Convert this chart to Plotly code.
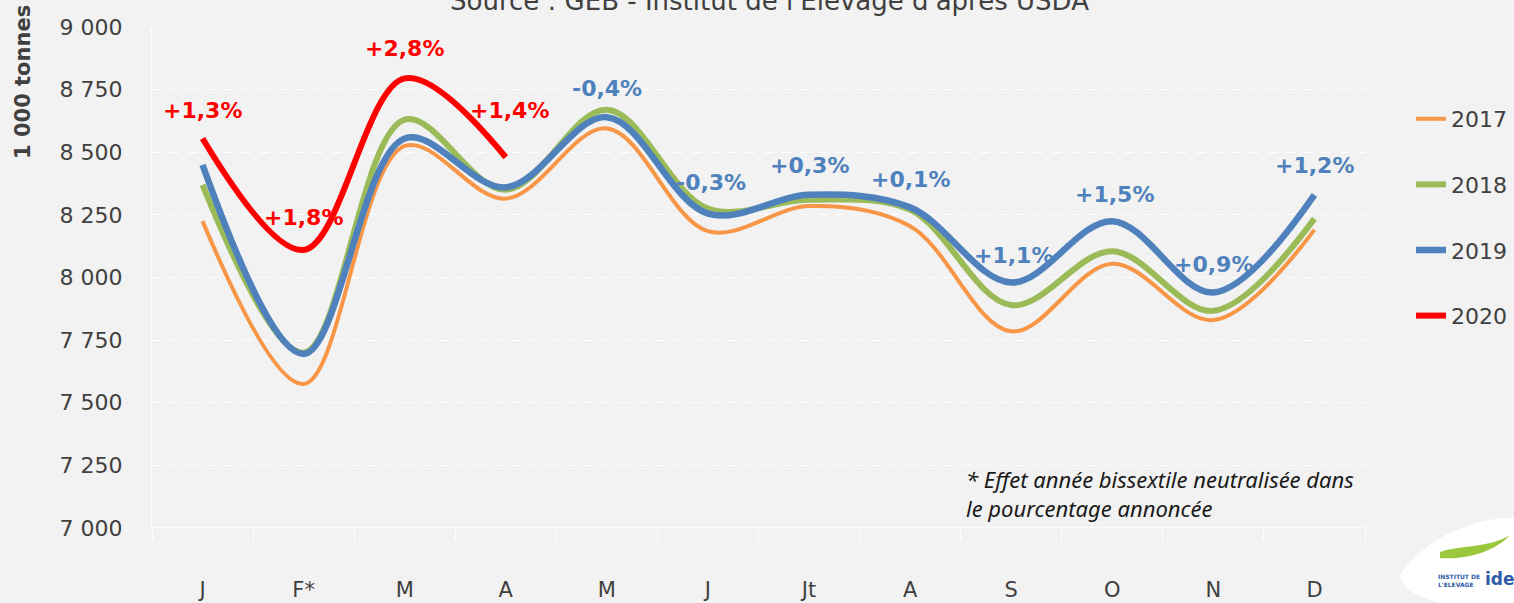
import plotly.graph_objects as go

months = ["J", "F*", "M", "A", "M", "J", "Jt", "A", "S", "O", "N", "D"]
y2017 = [8225, 7575, 8525, 8315, 8595, 8185, 8285, 8205, 7785, 8055, 7830, 8190]
y2018 = [8370, 7700, 8630, 8350, 8670, 8275, 8310, 8270, 7890, 8105, 7867, 8235]
y2019 = [8450, 7695, 8555, 8360, 8640, 8255, 8330, 8280, 7980, 8225, 7940, 8330]
y2020 = [8555, 8110, 8795, 8480]

labels_2020 = ["+1,3%", "+1,8%", "+2,8%", "+1,4%"]
labels_2019 = ["-0,4%", "-0,3%", "+0,3%", "+0,1%", "+1,1%", "+1,5%", "+0,9%", "+1,2%"]

yticks = [7000, 7250, 7500, 7750, 8000, 8250, 8500, 8750, 9000]

FONT = "DejaVu Sans"
TXT = "#404040"
C17, C18, C19, C20 = "#F79646", "#9BBB59", "#4F81BD", "#FF0000"

x_all = list(range(len(months)))
fig = go.Figure()
series = [("2017", y2017, C17, 4), ("2018", y2018, C18, 6),
          ("2019", y2019, C19, 6.5), ("2020", y2020, C20, 6)]
for name, ys, col, w in series:
    fig.add_trace(go.Scatter(
        x=x_all[:len(ys)], y=ys, name=name, mode="lines",
        line=dict(color=col, width=w, shape="spline", smoothing=1.0),
        legendgroup=name, hoverinfo="skip"))

ann = []
shifts20 = [(0, 28), (0, 32), (0, 30), (4, 47)]
for i, t in enumerate(labels_2020):
    dx, dy = shifts20[i]
    ann.append(dict(x=i, y=y2020[i], xref="x", yref="y", text=t, showarrow=False,
                    xshift=dx, yshift=dy,
                    font=dict(family=FONT, size=22, color=C20, weight="bold")))
shifts19 = [(0, 29), (3, 31), (0, 29), (0, 28), (2, 27), (2, 27), (0, 28), (0, 29)]
for k, t in enumerate(labels_2019):
    i = 4 + k
    dx, dy = shifts19[k]
    ann.append(dict(x=i, y=y2019[i], xref="x", yref="y", text=t, showarrow=False,
                    xshift=dx, yshift=dy,
                    font=dict(family=FONT, size=22, color=C19, weight="bold")))

ann.append(dict(x=769, y=603 - 18, xref="paper", yref="paper", text="Source : GEB - Institut de l'Elevage d'après USDA",
                showarrow=False, xanchor="center", yanchor="bottom",
                font=dict(family=FONT, size=26, color=TXT)))
ann.append(dict(x=23, y=603 - 82, xref="paper", yref="paper", text="<b>1 000 tonnes</b>",
                textangle=-90, showarrow=False, xanchor="center", yanchor="middle",
                font=dict(family=FONT, size=21, color=TXT)))
ann.append(dict(x=964, y=603 - 493, xref="paper", yref="paper",
                text="<i>* Effet année bissextile neutralisée dans<br>le pourcentage annoncée</i>",
                showarrow=False, xanchor="left", yanchor="middle", align="left",
                font=dict(family="Noto Sans", size=22, color="#1a1a1a")))
ann.append(dict(x=1436, y=603 - 580, xref="paper", yref="paper",
                text="<b>INSTITUT DE<br>L'ELEVAGE</b>", showarrow=False, xanchor="left",
                yanchor="middle", align="left",
                font=dict(family=FONT, size=6, color="#2E5AA8")))
ann.append(dict(x=1483, y=603 - 579, xref="paper", yref="paper",
                text="<b>idele</b>", showarrow=False, xanchor="left", yanchor="middle",
                font=dict(family=FONT, size=17, color="#2E5AA8")))

L, R, T, B = 152, 149, 27, 75
W, H = 1514, 603
pw, ph = W - L - R, H - T - B
for a in ann:
    if a["xref"] == "paper":
        a["x"] = (a["x"] - L) / pw
        a["y"] = (a["y"] - B) / ph
fig.update_layout(annotations=ann)

def px(xp):
    return (xp - L) / pw
def py(yp):
    return (H - yp - B) / ph

shapes = [
    dict(type="path", xref="paper", yref="paper",
         path=f"M {px(1400)},{py(575)} C {px(1430)},{py(530)} {px(1490)},{py(515)} {px(1520)},{py(518)} L {px(1520)},{py(603)} L {px(1440)},{py(603)} C {px(1420)},{py(598)} {px(1402)},{py(590)} {px(1400)},{py(575)} Z",
         fillcolor="white", line=dict(width=0), layer="above"),
    dict(type="path", xref="paper", yref="paper",
         path=f"M {px(1440)},{py(552)} C {px(1460)},{py(545)} {px(1490)},{py(548)} {px(1510)},{py(535)} C {px(1495)},{py(552)} {px(1465)},{py(560)} {px(1440)},{py(558)} Z",
         fillcolor="#9BC73C", line=dict(width=0), layer="above"),
    dict(type="line", xref="paper", yref="y", x0=0, x1=1, y0=7000, y1=7000,
         line=dict(color="#FFFFFF", width=1.5), layer="below"),
]
fig.update_layout(shapes=shapes)

fig.update_layout(
    width=W, height=H,
    margin=dict(l=L, r=R, t=T, b=B, autoexpand=False),
    paper_bgcolor="#F2F2F2", plot_bgcolor="#F2F2F2",
    separators=", ",
    showlegend=True,
    legend=dict(x=(1411 - L) / pw, y=py(98), xanchor="left", yanchor="top",
                font=dict(family=FONT, size=22, color=TXT),
                tracegroupgap=34, bgcolor="rgba(0,0,0,0)", itemwidth=30),
    xaxis=dict(range=[-0.5, 11.5], tickmode="array", tickvals=x_all, ticktext=months,
               ticks="", showgrid=False, zeroline=False, showline=False,
               tickfont=dict(family=FONT, size=21, color=TXT),
               ticklabelstandoff=47,
               minor=dict(tickmode="array", tickvals=[i - 0.5 for i in range(13)],
                          ticks="outside", ticklen=12, tickcolor="#FFFFFF", tickwidth=1,
                          showgrid=False)),
    yaxis=dict(range=[7000, 9000], tickmode="array", tickvals=yticks, tickformat=",d",
               showgrid=True, gridcolor="#FFFFFF", griddash="dash", gridwidth=1,
               zeroline=False, showline=True, linecolor="#FFFFFF", linewidth=1,
               ticks="", ticklabelstandoff=24,
               tickfont=dict(family=FONT, size=22, color=TXT)),
)

fig.write_html("out.html", config={"displayModeBar": False},
               post_script="document.body.style.margin='0';document.body.style.overflow='hidden';")
